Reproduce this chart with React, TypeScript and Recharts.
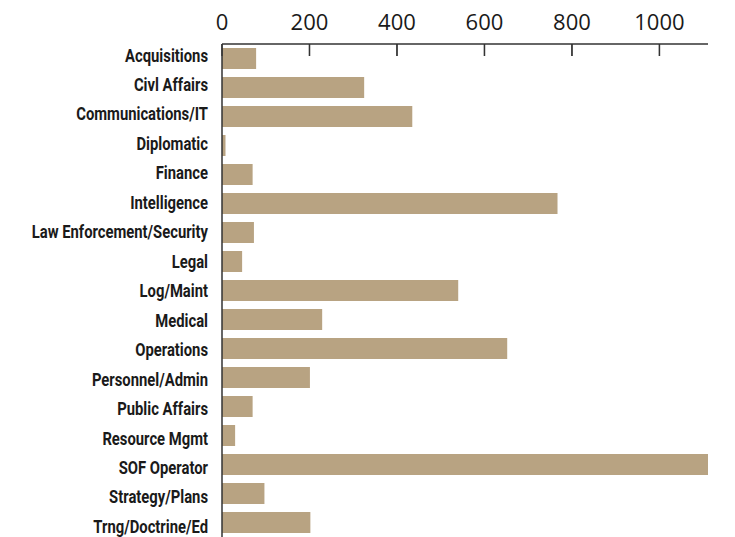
import React from "react";
import { BarChart, Bar, XAxis, YAxis, ReferenceLine } from "recharts";

const categories = [
  "Acquisitions",
  "Civl Affairs",
  "Communications/IT",
  "Diplomatic",
  "Finance",
  "Intelligence",
  "Law Enforcement/Security",
  "Legal",
  "Log/Maint",
  "Medical",
  "Operations",
  "Personnel/Admin",
  "Public Affairs",
  "Resource Mgmt",
  "SOF Operator",
  "Strategy/Plans",
  "Trng/Doctrine/Ed",
];

const counts = [78, 325, 435, 8, 70, 767, 73, 46, 540, 229, 652, 201, 70, 30, 1111, 97, 202];

const xTicks = [0, 200, 400, 600, 800, 1000];

const data = categories.map((name, i) => ({ name, value: counts[i] }));

const AXIS_COLOR = "#333333";
const BAR_COLOR = "#b8a382";

const TopTick = (props: any) => {
  const { x, y, payload } = props;
  return (
    <text
      x={x}
      y={y}
      textAnchor="middle"
      fontFamily="'Open Sans', 'Noto Sans', sans-serif"
      fontSize={22}
      fill="#1a1a1a"
    >
      {payload.value}
    </text>
  );
};

const LeftTick = (props: any) => {
  const { x, y, payload } = props;
  // labels in the reference are spaced slightly wider than the bars
  const baseline = 61.5 + (y - 58.5) * 1.016;
  return (
    <g transform={`translate(${x},${baseline}) scale(0.78,1)`}>
      <text
        x={0}
        y={0}
        textAnchor="end"
        fontFamily="Roboto, 'Noto Sans', sans-serif"
        fontWeight="bold"
        fontSize={19}
        fill="#1a1a1a"
      >
        {payload.value}
      </text>
    </g>
  );
};

const InnerTick = (props: any) => {
  const { x1, y1, y2 } = props;
  const top = Math.min(y1, y2);
  return <line x1={x1} y1={top} x2={x1} y2={top + 12} stroke={AXIS_COLOR} strokeWidth={1.3} />;
};

export default function App() {
  return (
    <div style={{ position: "absolute", left: 0, top: 0, width: 735, height: 537, background: "#fff" }}>
      <BarChart
        width={735}
        height={537}
        data={data}
        layout="vertical"
        margin={{ top: 0, right: 27, bottom: 0, left: 0 }}
      >
        <XAxis
          type="number"
          orientation="top"
          domain={[0, "dataMax"]}
          ticks={xTicks}
          height={44}
          tickSize={-12}
          tickMargin={26}
          tickLine={{ stroke: AXIS_COLOR, strokeWidth: 1.3 }}
          axisLine={{ stroke: AXIS_COLOR, strokeWidth: 1.5 }}
          tick={<TopTick />}
          interval={0}
        />
        <YAxis
          type="category"
          dataKey="name"
          width={222}
          tickLine={false}
          tickSize={0}
          tickMargin={14}
          axisLine={{ stroke: AXIS_COLOR, strokeWidth: 1.5 }}
          interval={0}
          tick={<LeftTick />}
        />
        <Bar dataKey="value" fill={BAR_COLOR} barSize={21} isAnimationActive={false} />
        {xTicks.slice(1).map((t) => (
          <ReferenceLine key={t} x={t} stroke={AXIS_COLOR} shape={<InnerTick />} />
        ))}
      </BarChart>
    </div>
  );
}
